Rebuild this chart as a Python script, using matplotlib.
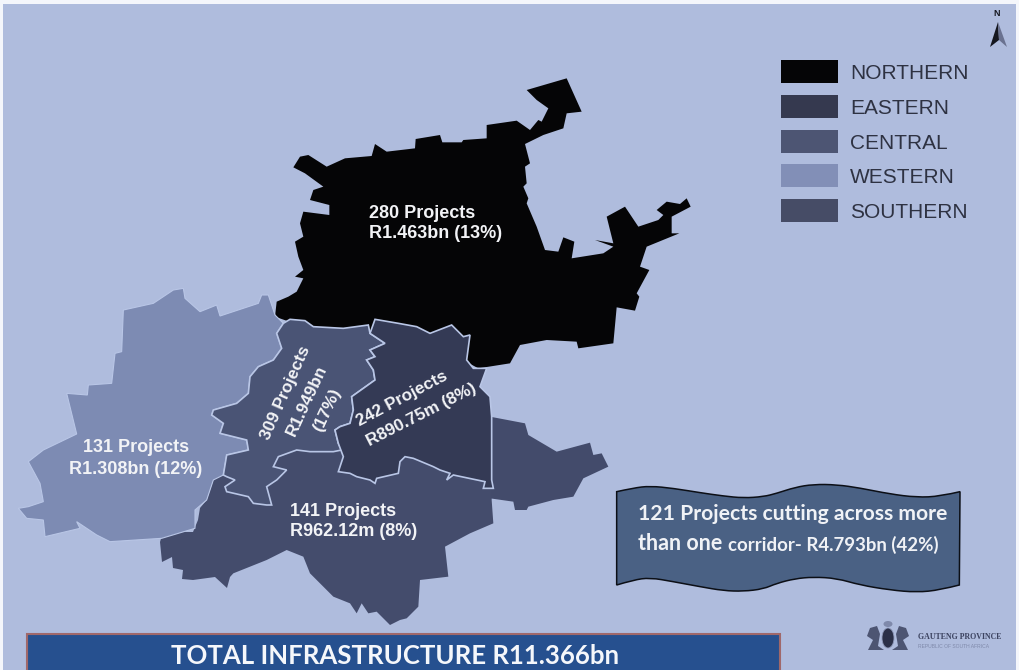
import matplotlib
matplotlib.use('Agg')
import matplotlib.pyplot as plt
from matplotlib.patches import Polygon, Rectangle, Ellipse, PathPatch
from matplotlib.path import Path

W, H = 1019, 670

northern = [(15,740),(20,695),(55,680),(80,665),(100,625),(75,620),(100,600),(85,560),(75,515),(100,500),
            (90,460),(100,425),(178,435),(178,405),(120,390),(130,360),(160,350),(105,310),(70,292),(90,260),
            (115,255),(170,290),(225,265),(305,258),(315,222),(350,245),(435,235),(437,207),(510,195),(517,217),
            (575,217),(580,210),(650,205),(650,165),(740,152),(780,180),(805,150),(815,155),(835,115),(800,90),
            (770,60),(890,25),(935,125),(890,130),(880,175),(820,195),(765,222),(780,280),(765,290),(770,340),
            (760,350),(775,385),(770,400),(800,470),(825,540),(865,545),(880,502),(913,515),(905,565),(1000,550),
            (1030,530),(975,510),(1030,520),(1010,440),(1065,410),(1105,470),(1165,450),(1180,435),(1160,420),(1190,395),
            (1230,402),(1250,385),(1262,410),(1205,440),(1205,490),(1228,490),(1130,530),(1110,590),(1138,600),(1100,670),
            (1108,680),(1095,722),(1040,712),(1030,820),(925,835),(920,815),(830,810),(750,825),(720,880),(625,895),
            (560,860),(300,800),(100,770)]
western = [(25,685),(55,680),(100,665),(90,610),(55,545),(100,510),(200,462),(170,340),(232,345),(235,315),
           (305,310),(315,220),(335,215),(340,90),(430,70),(490,30),(520,25),(525,55),(570,95),(620,75),
           (630,108),(745,70),(755,45),(775,45),(795,105),(820,130),(800,160),(815,205),(790,240),(745,260),
           (720,290),(715,340),(680,370),(610,390),(605,405),(640,430),(630,460),(710,480),(715,510),(650,525),
           (640,585),(610,600),(590,660),(555,690),(555,745),(455,775),(300,785),(260,765),(200,725),(210,745),
           (105,770),(100,720),(50,715)]
southern = [(40,510),(20,570),(0,594),(-6,630),(-21,666),(-111,666),(-120,696),(-114,756),(-84,741),(-81,774),
            (-51,780),(-54,807),(-21,810),(45,801),(81,834),(90,801),(100,790),(200,750),(260,720),(310,740),
            (330,790),(400,860),(450,880),(470,910),(485,880),(505,910),(530,905),(570,945),(600,930),(620,925),
            (655,890),(660,810),(745,800),(735,710),(810,670),(880,640),(875,570),(880,400),(600,400),(200,420),
            (80,480)]
southern_arm = [(870,320),(975,340),(985,375),(1070,425),(1170,398),(1180,435),(1205,430),(1225,470),(1150,505),(1120,560),
                (1060,570),(985,590),(980,600),(945,600),(940,575),(870,565)]
central = [(250,40),(270,28),(315,32),(340,50),(430,55),(505,45),(510,70),(555,100),(510,120),(525,140),
           (500,150),(520,180),(525,210),(490,235),(455,260),(460,300),(450,340),(420,350),(405,360),(415,400),
           (425,420),(400,425),(330,425),(290,420),(235,440),(220,470),(260,480),(230,510),(200,530),(215,585),
           (200,585),(160,580),(145,560),(80,545),(75,530),(105,510),(80,500),(70,495),(80,435),(145,420),
           (140,390),(60,370),(70,340),(35,315),(40,300),(110,280),(145,250),(150,200),(175,170),(220,150),
           (245,115),(230,70)]
eastern = [(525,28),(595,40),(650,50),(690,70),(755,45),(790,80),(810,75),(800,150),(820,175),(860,175),
           (840,230),(870,260),(875,320),(875,510),(880,535),(850,535),(855,515),(760,495),(740,510),(750,490),
           (720,480),(700,470),(640,445),(615,440),(600,455),(595,490),(530,505),(525,520),(510,510),(470,500),
           (450,490),(415,485),(430,440),(415,400),(405,360),(420,350),(450,340),(460,300),(455,260),(490,235),
           (525,210),(520,180),(500,150),(525,140),(510,120),(555,100),(510,70)]
ribbon_top = [(50,35),(100,24),(150,18),(220,25),(300,38),(370,48),(430,54),(490,50),(530,40),(585,22),
              (640,13),(710,14),(780,24),(870,42),(950,52),(1020,49),(1080,35)]
ribbon_bottom = [(1078,315),(1020,330),(950,337),(870,330),(780,315),(710,295),(640,291),(585,296),(530,310),(490,327),
                 (430,334),(370,332),(300,320),(220,305),(150,293),(100,300),(50,315)]
arrow_left = [(990,47),(998,22),(999,40)]
arrow_right = [(998,22),(1007,47),(999,40)]
crest_lions = [(870,628),(877,626),(880,634),(878,646),(884,650),(868,650),(873,640),(867,636),
               (906,628),(899,626),(896,634),(898,646),(892,650),(908,650),(903,640),(909,636)]

legend_names = ['NORTHERN', 'EASTERN', 'CENTRAL', 'WESTERN', 'SOUTHERN']
legend_colors = ['#050506', '#35394f', '#4d5573', '#828fb7', '#464c66']
legend_top = [60, 95, 130, 164, 199]


def crop_pts(pts, x0, y0):
    return [(x0 + a / 3, y0 + b / 3) for a, b in pts]


def wavy_path(top, bottom):
    # quadratic curves through the midpoints so the ribbon has no corners
    verts = [top[0]]
    codes = [Path.MOVETO]
    for edge_pts in (top, bottom):
        if edge_pts is bottom:
            verts.append(edge_pts[0])
            codes.append(Path.LINETO)
        for i in range(1, len(edge_pts) - 1):
            p = edge_pts[i]
            q = edge_pts[i + 1]
            end = q if i == len(edge_pts) - 2 else ((p[0] + q[0]) / 2, (p[1] + q[1]) / 2)
            verts += [p, end]
            codes += [Path.CURVE3, Path.CURVE3]
    verts.append(top[0])
    codes.append(Path.CLOSEPOLY)
    return Path(verts, codes)


fig = plt.figure(figsize=(W / 100, H / 100), dpi=100, facecolor='#f4f6fb')
ax = fig.add_axes([0, 0, 1, 1])
ax.set_xlim(0, W)
ax.set_ylim(H, 0)
ax.axis('off')

ax.add_patch(Rectangle((3, 4), 1013, 670, fc='#afbcdd', ec='none'))

edge = '#b9c6e6'
ax.add_patch(Polygon(crop_pts(northern, 270, 70), fc='#050506', ec='none'))
ax.add_patch(Polygon(crop_pts(southern_arm, 200, 310), fc='#434b6b', ec='none'))
ax.add_patch(Polygon(crop_pts(southern, 200, 310), fc='#444c6c', ec='none'))
ax.add_patch(Polygon(crop_pts(western, 10, 280), fc='#7d8bb3', ec=edge, lw=0.8))
ax.add_patch(Polygon(crop_pts(central, 200, 310), fc='#4a5475', ec=edge, lw=1.2))
ax.add_patch(Polygon(crop_pts(eastern, 200, 310), fc='#343a55', ec=edge, lw=1.2))

for name, col, top in zip(legend_names, legend_colors, legend_top):
    ax.add_patch(Rectangle((781, top), 57, 23, fc=col, ec='none'))
    ax.text(850, top + 13.5, name, color='#2e3242', fontsize=15, family='Liberation Sans', va='center')

ax.add_patch(Polygon(arrow_left, fc='#15171f', ec='none'))
ax.add_patch(Polygon(arrow_right, fc='#6a7290', ec='none'))
ax.text(997, 14, 'N', color='#15171f', fontsize=6.5, fontweight='bold', family='Liberation Sans', ha='center', va='center')

lab = dict(color='#f2f3f6', fontweight='bold', family='Liberation Sans', va='center')
ax.text(369, 213, '280 Projects', ha='left', fontsize=13, **lab)
ax.text(369, 234, 'R1.463bn (13%)', ha='left', fontsize=13, **lab)
ax.text(136, 448, '131 Projects', ha='center', fontsize=13, **lab)
ax.text(136, 469, 'R1.308bn (12%)', ha='center', fontsize=13, **lab)
ax.text(290, 511, '141 Projects', ha='left', fontsize=13, **lab)
ax.text(290, 532, 'R962.12m (8%)', ha='left', fontsize=13, **lab)
ax.text(286, 393, '309 Projects', ha='center', rotation=66, rotation_mode='anchor', fontsize=12.3, **lab)
ax.text(307, 401, 'R1.949bn', ha='center', rotation=65, rotation_mode='anchor', fontsize=12.3, **lab)
ax.text(327, 410, '(17%)', ha='center', rotation=65, rotation_mode='anchor', fontsize=12.3, **lab)
ax.text(402, 399, '242 Projects', ha='center', rotation=28, rotation_mode='anchor', fontsize=12.3, **lab)
ax.text(422, 415, 'R890.75m (8%)', ha='center', rotation=27, rotation_mode='anchor', fontsize=12.3, **lab)

ax.add_patch(PathPatch(wavy_path(crop_pts(ribbon_top, 600, 480), crop_pts(ribbon_bottom, 600, 480)),
                       fc='#4a6184', ec='#0c0f16', lw=1.1))
rib = dict(color='#f0f2f6', fontweight='bold', family='Lato', va='center', ha='left')
ax.text(638, 514.5, '121 Projects cutting across more', fontsize=15.2, **rib)
ax.text(638, 543.5, 'than one', fontsize=15.5, **rib)
ax.text(728, 544.5, 'corridor- R4.793bn (42%)', fontsize=13.4, **rib)

ax.add_patch(Rectangle((27, 634), 753, 40, fc='#26508f', ec='#a0686a', lw=1.5))
ax.text(395, 656, 'TOTAL INFRASTRUCTURE R11.366bn', color='#f5f7fb', fontsize=18.5, fontweight='bold',
        family='Lato', ha='center', va='center')

# gauteng crest, only roughly
crest = '#3c4360'
ax.add_patch(Polygon(crest_lions[:8], fc=crest, ec='none', alpha=0.85))
ax.add_patch(Polygon(crest_lions[8:], fc=crest, ec='none', alpha=0.85))
ax.add_patch(Ellipse((888, 638), 12, 20, fc='#2b3048', ec='#8d97b8', lw=0.6))
ax.add_patch(Ellipse((888, 624), 9, 6, fc='#7f89aa', ec='none'))
ax.text(918, 637, 'GAUTENG PROVINCE', color=crest, fontsize=5.7, fontweight='bold', family='Liberation Serif', va='center')
ax.text(918, 647, 'REPUBLIC OF SOUTH AFRICA', color='#7f89aa', fontsize=3.6, family='Liberation Sans', va='center')

fig.savefig('out.png', dpi=100, facecolor=fig.get_facecolor())
